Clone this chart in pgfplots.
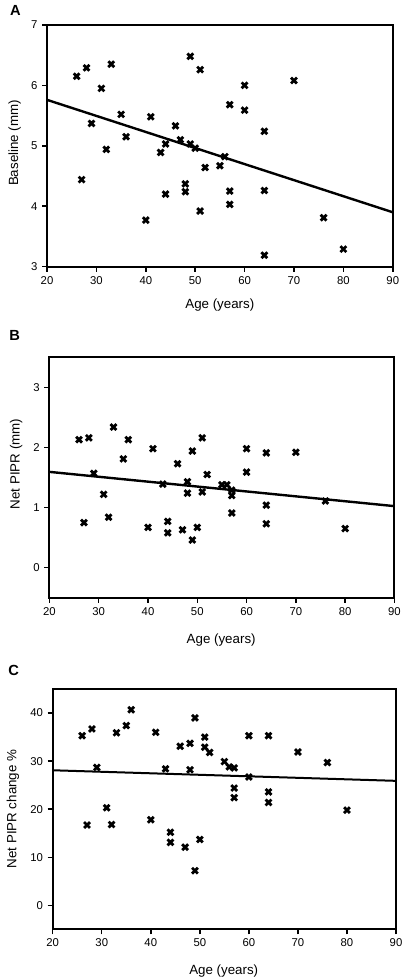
\documentclass[border=0pt]{standalone}
\usepackage{pgfplots}
\pgfplotsset{compat=1.18}
\usepackage{fontspec}
\setmainfont{Liberation Sans}
\begin{document}
\pgfplotsset{
  panel/.style={
    scale only axis,
    axis line style={line width=1.5pt},
    tick style={line width=1.1pt, black},
    tick align=outside,
    major tick length=3.75pt,
    xtick pos=bottom, ytick pos=left,
    xmin=20, xmax=90, xtick={20,30,...,90},
    tick label style={font=\fontsize{8.5}{10}\selectfont},
    /pgf/number format/assume math mode=true,
    clip=false,
  },
  pts/.style={only marks, mark=x, mark size=3.1pt, mark options={line width=2.1pt, black}},
  fit/.style={black, line width=1.8pt, no marks},
}
\begin{tikzpicture}
\useasboundingbox (0,0) rectangle (300pt,735pt);
% ---------- Panel A ----------
\begin{axis}[panel, at={(32.5pt,535pt)}, anchor=south west,
  width=259.3pt, height=181.3pt, ymin=3, ymax=7, ytick={3,4,5,6,7}]
\addplot[pts] coordinates {
(26,6.15) (28,6.29) (33,6.35) (31,5.95) (29,5.37) (27,4.44) (32,4.94) (35,5.52)
(36,5.15) (41,5.48) (40,3.77) (43,4.89) (44,5.03) (44,4.20) (46,5.33) (47,5.10)
(49,6.48) (49,5.03) (48,4.37) (48,4.24) (50,4.96) (51,6.26) (51,3.92) (52,4.64)
(55,4.67) (56,4.82) (57,5.68) (57,4.25) (57,4.03) (60,6.00) (60,5.59) (64,5.24)
(64,4.26) (64,3.19) (70,6.08) (76,3.81) (80,3.29)};
\addplot[fit] coordinates {(20,5.76) (90,3.90)};
\end{axis}
\node[font=\bfseries\fontsize{11}{13}\selectfont] at (8.8pt,727.5pt) {A};
\node[font=\fontsize{10}{12}\selectfont] at (162.1pt,506.25pt) {Age (years)};
\node[font=\fontsize{10}{12}\selectfont, rotate=90] at (8.25pt,627.75pt) {Baseline (mm)};
% ---------- Panel B ----------
\begin{axis}[panel, at={(34.3pt,286.7pt)}, anchor=south west,
  width=258.75pt, height=180.3pt, ymin=-0.5, ymax=3.5, ytick={0,1,2,3}]
\addplot[pts] coordinates {
(26,2.13) (28,2.16) (33,2.34) (36,2.13) (35,1.81) (29,1.57) (27,0.75) (31,1.22)
(32,0.84) (41,1.98) (40,0.67) (43,1.39) (44,0.77) (44,0.58) (46,1.73) (47,0.63)
(48,1.43) (48,1.24) (49,1.94) (49,0.46) (50,0.67) (51,2.16) (51,1.26) (52,1.55)
(55,1.38) (56,1.38) (57,1.29) (57,1.20) (57,0.91) (60,1.98) (60,1.59) (64,1.91)
(64,1.04) (64,0.73) (70,1.92) (76,1.11) (80,0.65)};
\addplot[fit] coordinates {(20,1.594) (90,1.024)};
\end{axis}
\node[font=\bfseries\fontsize{11}{13}\selectfont] at (8.25pt,483.75pt) {B};
\node[font=\fontsize{10}{12}\selectfont] at (163.1pt,255pt) {Age (years)};
\node[font=\fontsize{10}{12}\selectfont, rotate=90] at (9.4pt,387pt) {Net PIPR (mm)};
% ---------- Panel C ----------
\begin{axis}[panel, at={(36.75pt,38pt)}, anchor=south west,
  width=257.5pt, height=180.2pt, ymin=-5, ymax=45, ytick={0,10,20,30,40}]
\addplot[pts] coordinates {
(26,35.3) (28,36.7) (27,16.7) (29,28.7) (31,20.3) (32,16.8) (33,35.9) (35,37.4)
(36,40.7) (40,17.8) (41,36.0) (43,28.4) (44,15.2) (44,13.1) (46,33.1) (47,12.1)
(48,33.7) (48,28.2) (49,39.0) (49,7.2) (50,13.7) (51,35.0) (51,32.9) (52,31.8)
(55,29.9) (56,28.8) (57,28.6) (57,24.4) (57,22.4) (60,35.3) (60,26.7) (64,35.3)
(64,23.6) (64,21.4) (70,31.9) (76,29.7) (80,19.8)};
\addplot[fit, line width=1.5pt] coordinates {(20,28.1) (90,25.9)};
\end{axis}
\node[font=\bfseries\fontsize{11}{13}\selectfont] at (7.5pt,232.5pt) {C};
\node[font=\fontsize{10}{12}\selectfont] at (165pt,6.5pt) {Age (years)};
\node[font=\fontsize{10}{12}\selectfont, rotate=90] at (6.9pt,128.25pt) {Net PIPR change \%};
\end{tikzpicture}
\end{document}
